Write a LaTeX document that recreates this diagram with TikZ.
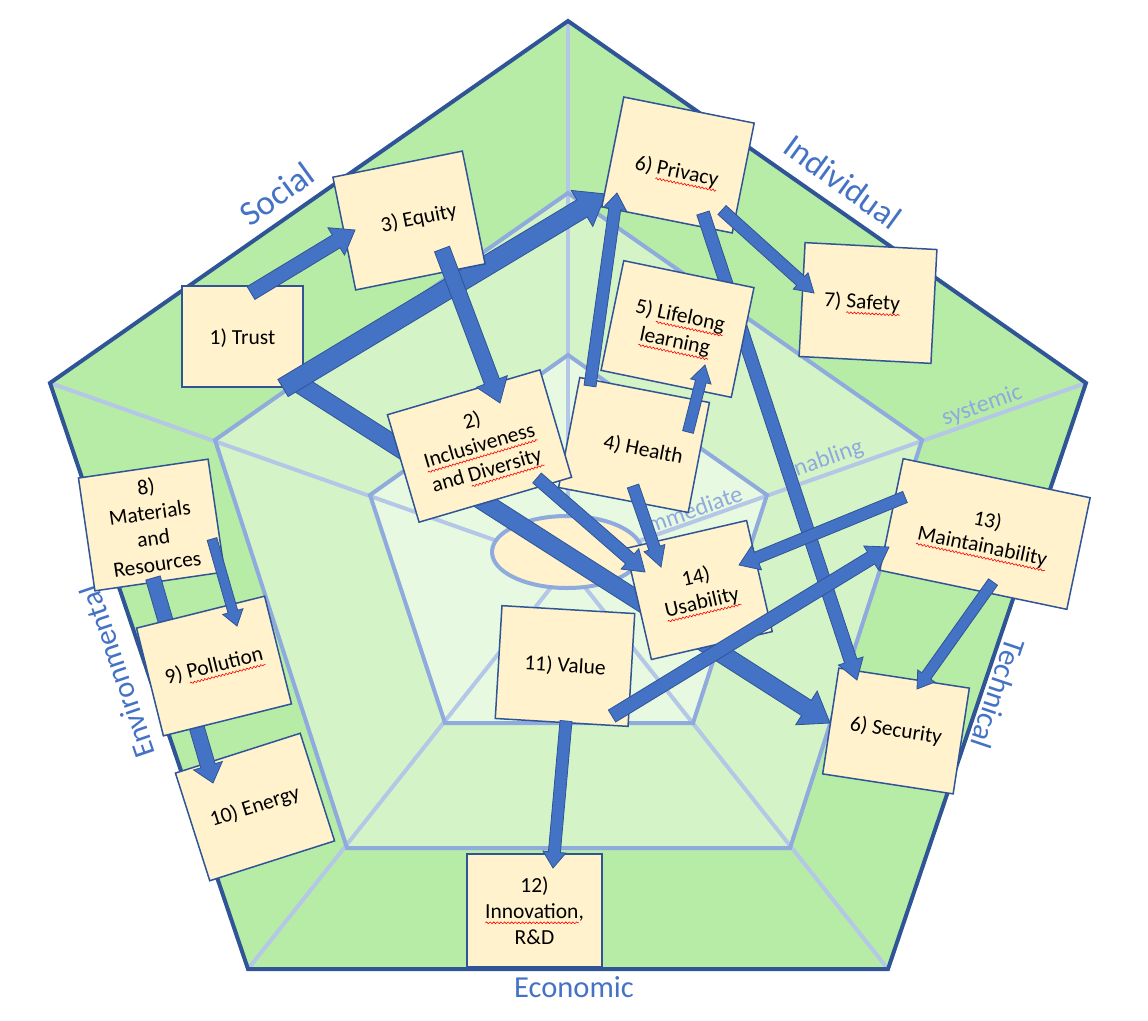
\documentclass[tikz,border=0pt]{standalone}
\usepackage{fontspec}
\setmainfont{Carlito}
\usetikzlibrary{calc,decorations.pathmorphing}
\definecolor{outerfill}{RGB}{183,236,166}
\definecolor{midfill}{RGB}{212,244,200}
\definecolor{innerfill}{RGB}{232,249,226}
\definecolor{darkline}{RGB}{47,85,151}
\definecolor{ringblue}{RGB}{143,170,220}
\definecolor{spokeblue}{RGB}{180,199,231}
\definecolor{boxfill}{RGB}{255,242,204}
\definecolor{arrowblue}{RGB}{68,114,196}
\definecolor{labelblue}{RGB}{68,114,196}
\newsavebox\sqbox
\newcommand\sq[1]{\sbox\sqbox{#1}\leavevmode\rlap{\raisebox{-4.5pt}[0pt][0pt]{\tikz[reset cm,x=1pt,y=1pt,baseline=0pt]\draw[red,line width=0.6pt,decorate,decoration={snake,amplitude=0.9pt,segment length=3.6pt}] (0,0)--(\wd\sqbox,0);}}\usebox\sqbox}
\newcommand\boxfont{\fontsize{21.5}{26}\selectfont}
\newcommand\lowertext[2]{\raisebox{-#1}[\height][\depth]{#2}}
\newcommand{\blockarrow}[5]{%
  \pgfmathsetmacro\baS{#3/2}\pgfmathsetmacro\baH{#4/2}%
  \path ($(#2)!#5pt!(#1)$) coordinate (ba-h);
  \filldraw[arrowshape] ($(#1)!\baS pt!90:(#2)$) -- ($(ba-h)!\baS pt!-90:(#1)$) -- ($(ba-h)!\baH pt!-90:(#1)$) -- (#2) -- ($(ba-h)!\baH pt!90:(#1)$) -- ($(ba-h)!\baS pt!90:(#1)$) -- ($(#1)!\baS pt!-90:(#2)$) -- cycle;}
\begin{document}
\begin{tikzpicture}[x=1pt,y=-1pt,
  box/.style={draw=darkline, fill=boxfill, line width=1.5pt, inner sep=0pt, align=center, font=\boxfont, text=black},
  arrowshape/.style={fill=arrowblue, draw=darkline, line width=0.8pt, line join=miter},
  dimlabel/.style={text=labelblue, inner sep=0pt},
  spokelabel/.style={text=ringblue, inner sep=0pt, font=\fontsize{24}{28}\selectfont},
  spoke/.style={draw=spokeblue, line width=4pt},
  ring/.style={draw=ringblue, line width=4pt},
  outline/.style={draw=darkline, line width=4pt}]
\useasboundingbox (0,0) rectangle (1148,1020);
% pentagon geometry
\coordinate (P1) at (568,21);  \coordinate (P2) at (1086,383); \coordinate (P3) at (888,969);
\coordinate (P4) at (248,969); \coordinate (P5) at (50,383);
\coordinate (Q1) at (568,193); \coordinate (Q2) at (922,440); \coordinate (Q3) at (790,848);
\coordinate (Q4) at (347,848); \coordinate (Q5) at (215,440);
\coordinate (R1) at (568,355); \coordinate (R2) at (767,495); \coordinate (R3) at (693,723);
\coordinate (R4) at (445,723); \coordinate (R5) at (370,495);
\coordinate (C) at (568,566);
\fill[outerfill] (P1)--(P2)--(P3)--(P4)--(P5)--cycle;
\fill[midfill] (Q1)--(Q2)--(Q3)--(Q4)--(Q5)--cycle;
\fill[innerfill] (R1)--(R2)--(R3)--(R4)--(R5)--cycle;
\foreach \p in {P1,P2,P3,P4,P5} \draw[spoke] (C) -- (\p);
\draw[ring] (Q1)--(Q2)--(Q3)--(Q4)--(Q5)--cycle;
\draw[ring] (R1)--(R2)--(R3)--(R4)--(R5)--cycle;
\draw[ring, fill=boxfill] (567,552) ellipse [x radius=75pt, y radius=36pt];
\draw[outline] (P1)--(P2)--(P3)--(P4)--(P5)--cycle;
% labels
\node[dimlabel, font=\fontsize{35}{40}\selectfont, rotate=36] (lsoc) at (277,194) {Social};
\node[dimlabel, font=\fontsize{34}{40}\selectfont, rotate=-36] (lind) at (843,182) {Individual};
\node[dimlabel, font=\fontsize{30.5}{36}\selectfont, rotate=-108.7] (ltec) at (998,694) {Technical};
\node[dimlabel, font=\fontsize{30.5}{36}\selectfont, rotate=108.7] (lenv) at (117,672) {Environmental};
\node[dimlabel, font=\fontsize{30.5}{36}\selectfont] (leco) at (574,987) {Economic};
\node[spokelabel, rotate=19.5] (limm) at (692,510) {immediate};
\node[spokelabel, rotate=19.5] (lena) at (823,461) {enabling};
\node[spokelabel, rotate=19.5] (lsys) at (982,406) {systemic};
% boxes (first group)
\node[box, minimum width=132, minimum height=107, rotate=-8.7] (b16) at (896,731) {6) Security};
\node[box, minimum width=121, minimum height=101] (b1) at (242.5,336.5) {\lowertext{2pt}{1) Trust}};
% big arrows from Trust
\coordinate (d-t) at (293,380); \coordinate (d-h) at (830,723);
\blockarrow{d-t}{d-h}{18}{40}{28}
\coordinate (c-t) at (283,388); \coordinate (c-h) at (606,194);
\blockarrow{c-t}{c-h}{20}{42}{28}
\node[box, minimum width=133, minimum height=112, rotate=-11.3] (b6) at (678,165) {\lowertext{7pt}{6) \sq{Privacy}}};
\node[box, minimum width=132, minimum height=114, rotate=-3] (b7) at (868,303) {\hspace*{-12pt}7) \sq{Safety}};
\coordinate (h-t) at (703,213); \coordinate (h-h) at (857,680);
\blockarrow{h-t}{h-h}{13}{26}{20}
\node[box, minimum width=133, minimum height=112, rotate=-11.7] (b5) at (677.5,329) {5) \sq{Lifelong}\\\sq{learning}};
\node[box, minimum width=132, minimum height=115, rotate=11.4] (b3) at (409,220.5) {\hspace*{20pt}3) Equity};
\node[box, minimum width=132, minimum height=112, rotate=-10.9] (b4) at (634,445) {\hspace*{20pt}\lowertext{3pt}{4) Health}};
\node[box, minimum width=159, minimum height=112, rotate=16.4] (b2) at (479.5,446) {2)\\\sq{Inclusiveness}\\and \sq{Diversity}};
\node[box, minimum width=133, minimum height=113, rotate=-3.4] (b11) at (565,666) {11) Value};
\node[box, minimum width=124, minimum height=114, rotate=13] (b14) at (699,590) {14)\\\sq{Usability}};
\node[box, minimum width=135, minimum height=113] (b12) at (534.5,910.5) {12)\\\sq{Innovation},\\R\&D};
\node[box, minimum width=191, minimum height=114, rotate=-11.8] (b13) at (985,534) {13)\\\sq{Maintainability}};
\node[box, minimum width=131, minimum height=114, rotate=8.3] (b8) at (151.5,525) {8)\\Materials\\and\\Resources};
\node[box, minimum width=131, minimum height=113, rotate=17.7] (b10) at (255,807) {10) Energy};
\coordinate (p-t) at (153,578); \coordinate (p-h) at (213,783);
\blockarrow{p-t}{p-h}{15}{30}{18}
\node[box, minimum width=132, minimum height=111, rotate=14] (b9) at (214,666) {9) \sq{Pollution}};
% remaining arrows
\coordinate (a-t) at (251,293); \coordinate (a-h) at (355,230);
\blockarrow{a-t}{a-h}{15}{32}{22}
\coordinate (b-t) at (442,249); \coordinate (b-h) at (500,403);
\blockarrow{b-t}{b-h}{16}{33}{23}
\coordinate (e-t) at (590,386); \coordinate (e-h) at (617,193);
\blockarrow{e-t}{e-h}{12}{23}{16}
\coordinate (f-t) at (688,432); \coordinate (f-h) at (705,365);
\blockarrow{f-t}{f-h}{11}{21}{17}
\coordinate (g-t) at (722,210); \coordinate (g-h) at (814,293);
\blockarrow{g-t}{g-h}{12}{22}{18}
\coordinate (i-t) at (537,478); \coordinate (i-h) at (645,572);
\blockarrow{i-t}{i-h}{13}{27}{20}
\coordinate (j-t) at (633,486); \coordinate (j-h) at (661,567);
\blockarrow{j-t}{j-h}{12}{22}{20}
\coordinate (k-t) at (905,497); \coordinate (k-h) at (739,565);
\blockarrow{k-t}{k-h}{12}{26}{19}
\coordinate (l-t) at (612,716); \coordinate (l-h) at (889,547);
\blockarrow{l-t}{l-h}{14}{28}{21}
\coordinate (m-t) at (993,582); \coordinate (m-h) at (917,689);
\blockarrow{m-t}{m-h}{11}{21}{16}
\coordinate (n-t) at (566,721); \coordinate (n-h) at (553,868);
\blockarrow{n-t}{n-h}{12}{23}{16}
\coordinate (o-t) at (212,539); \coordinate (o-h) at (237,626);
\blockarrow{o-t}{o-h}{10}{21}{15}
\end{tikzpicture}
\end{document}
